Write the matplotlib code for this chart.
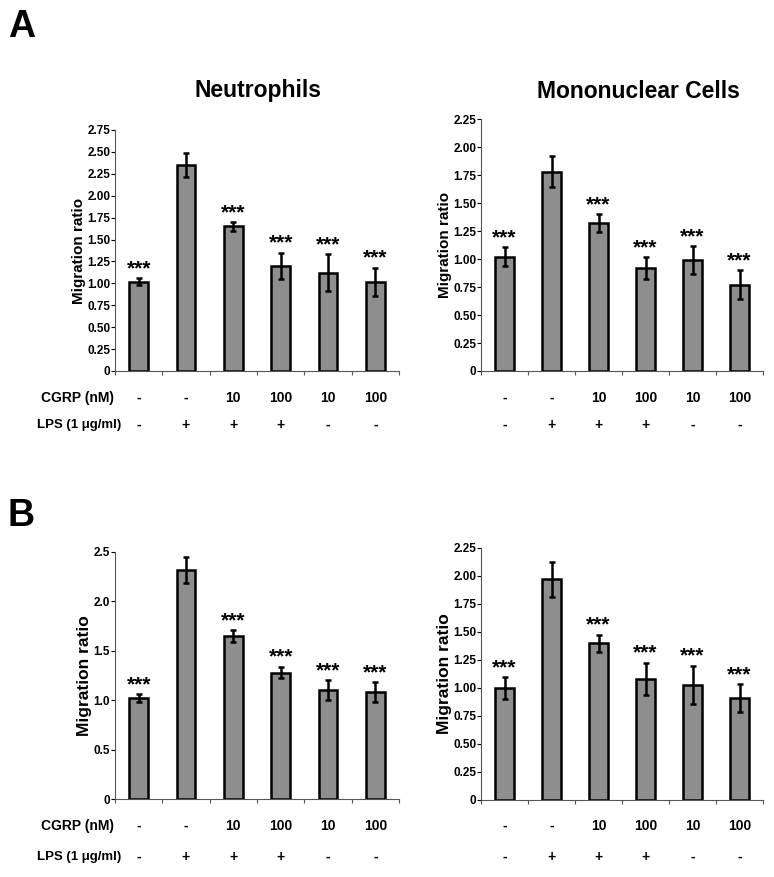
#Figure: CGRP effect on LPS-induced migration of neutrophils and mononuclear cells

import matplotlib.pyplot as plt
import numpy as np

plt.rcParams['font.family'] = ['Liberation Sans', 'DejaVu Sans']
plt.rcParams['font.weight'] = 'bold'

cgrp_labels = ["-", "-", "10", "100", "10", "100"]
lps_labels = ["-", "+", "+", "+", "-", "-"]
stars = ["***", "", "***", "***", "***", "***"]

# panel A
neut_a = [1.02, 2.35, 1.65, 1.20, 1.12, 1.02]
neut_a_err = [0.04, 0.14, 0.05, 0.15, 0.21, 0.16]
mono_a = [1.02, 1.78, 1.32, 0.92, 0.99, 0.77]
mono_a_err = [0.085, 0.14, 0.08, 0.095, 0.125, 0.13]

# panel B
neut_b = [1.02, 2.32, 1.65, 1.28, 1.10, 1.08]
neut_b_err = [0.04, 0.13, 0.06, 0.06, 0.10, 0.10]
mono_b = [1.00, 1.97, 1.40, 1.08, 1.03, 0.91]
mono_b_err = [0.095, 0.155, 0.075, 0.145, 0.17, 0.125]

W, H = 774, 877
fig = plt.figure(figsize=(W/100, H/100), dpi=100)

def axes_px(left, right, top, bottom):
        return fig.add_axes([left/W, 1-bottom/H, (right-left)/W, (bottom-top)/H])

def draw(ax, vals, errs, ymax, yticks, ytl, label_size, row_y, show_names):
        x = np.arange(len(vals))
        ax.bar(x, vals, width=0.4, color="#8e8e8e", edgecolor="black", linewidth=1.8, zorder=2)
        ax.errorbar(x, vals, yerr=errs, fmt="none", ecolor="black", elinewidth=1.8,
                    capsize=2.5, capthick=1.8, zorder=3)
        for i in range(len(vals)):
                if stars[i] != "":
                        ax.annotate(stars[i], (x[i], vals[i]+errs[i]), xytext=(0, 0),
                                    textcoords="offset points", ha="center", va="bottom",
                                    fontsize=15, fontweight="bold")
        ax.set_xlim(-0.5, len(vals)-0.5)
        ax.set_ylim(0, ymax)
        ax.set_yticks(yticks)
        ax.set_yticklabels(ytl, fontsize=8.5, fontweight="bold")
        ax.set_xticks(np.arange(len(vals)+1)-0.5)
        ax.set_xticklabels([])
        ax.tick_params(axis="x", direction="out", length=3, width=0.8, color="#555555")
        ax.tick_params(axis="y", direction="out", length=3, width=0.8, pad=0.5)
        ax.spines["top"].set_visible(False)
        ax.spines["right"].set_visible(False)
        ax.spines["bottom"].set_color("#555555")
        ax.spines["left"].set_color("#555555")
        ax.set_ylabel("Migration ratio", fontsize=label_size, fontweight="bold", labelpad=1)
        # condition rows under the axis
        trans = ax.get_xaxis_transform()
        for i in range(len(vals)):
                ax.annotate(cgrp_labels[i], (x[i], 0), xycoords=trans, xytext=(0, -row_y[0]),
                            textcoords="offset pixels", ha="center", va="center",
                            fontsize=10, fontweight="bold")
                ax.annotate(lps_labels[i], (x[i], 0), xycoords=trans, xytext=(0, -row_y[1]),
                            textcoords="offset pixels", ha="center", va="center",
                            fontsize=10, fontweight="bold")
        if show_names:
                ax.annotate("CGRP (nM)", (-0.5, 0), xycoords=trans, xytext=(-1, -row_y[0]),
                            textcoords="offset pixels", ha="right", va="center",
                            fontsize=10, fontweight="bold")
                ax.annotate("LPS (1 \u03bcg/ml)", (-0.5, 0), xycoords=trans, xytext=(6, -row_y[1]),
                            textcoords="offset pixels", ha="right", va="center",
                            fontsize=9.5, fontweight="bold")

ax1 = axes_px(115, 399, 130, 371)
ax2 = axes_px(481, 763, 119, 371)
ax3 = axes_px(115, 399, 552, 799)
ax4 = axes_px(481, 763, 548, 800)

draw(ax1, neut_a, neut_a_err, 2.75, np.arange(0, 2.76, 0.25),
     ["0"]+["%.2f" % v for v in np.arange(0.25, 2.76, 0.25)], 11, (27, 54), True)
draw(ax2, mono_a, mono_a_err, 2.25, np.arange(0, 2.26, 0.25),
     ["0"]+["%.2f" % v for v in np.arange(0.25, 2.26, 0.25)], 11, (27, 54), False)
draw(ax3, neut_b, neut_b_err, 2.5, np.arange(0, 2.51, 0.5),
     ["0"]+["%.1f" % v for v in np.arange(0.5, 2.51, 0.5)], 12.5, (27, 58), True)
draw(ax4, mono_b, mono_b_err, 2.25, np.arange(0, 2.26, 0.25),
     ["0"]+["%.2f" % v for v in np.arange(0.25, 2.26, 0.25)], 12.5, (26, 57), False)

fig.text(258/W, 1-91/H, "Neutrophils", ha="center", va="center", fontsize=16.5, fontweight="bold")
fig.text(638/W, 1-91/H, "Mononuclear Cells", ha="center", va="center", fontsize=16.5, fontweight="bold")
fig.text(8/W, 1-27/H, "A", ha="left", va="center", fontsize=27, fontweight="bold")
fig.text(8/W, 1-516/H, "B", ha="left", va="center", fontsize=27, fontweight="bold")

plt.savefig("out.png", dpi=100)
